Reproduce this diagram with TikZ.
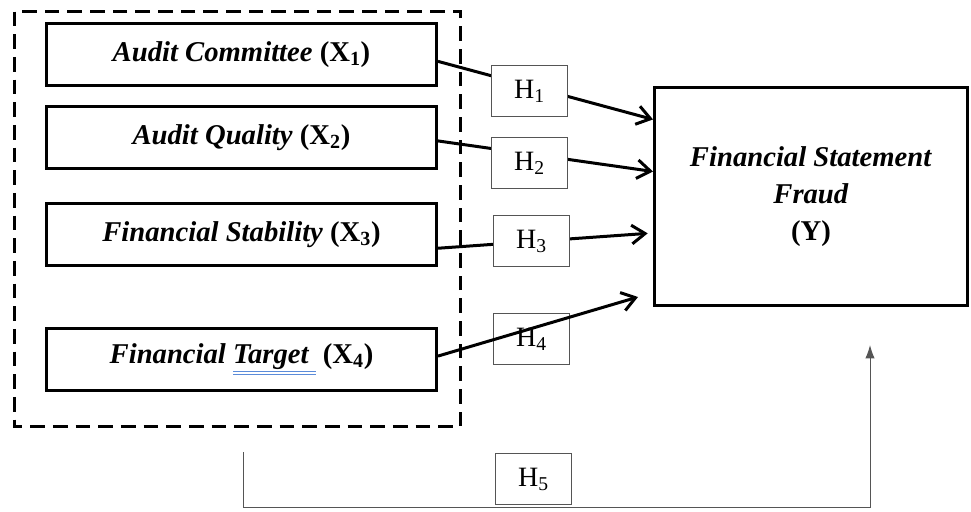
\documentclass[tikz,border=0pt]{standalone}
\usepackage{fontspec}
\setmainfont{Liberation Serif}
\usepackage{tikz}
\usetikzlibrary{positioning, arrows.meta}
\definecolor{abu}{HTML}{555555}
\definecolor{biru}{HTML}{5B8BD9}
\newcommand{\garisbawah}[1]{{\color{biru}\underline{\underline{\color{black}#1\ }}}}

\begin{document}
\begin{tikzpicture}[
    x=0.75pt, y=-0.75pt,
    node distance=13.5pt,
    kotak/.style={
        rectangle, draw=black, line width=2.25pt, fill=white,
        minimum width=292.5pt, minimum height=46.5pt,
        align=center, font=\fontsize{21.5}{26}\selectfont\bfseries,
        inner sep=2pt
    },
    hipo/.style={
        rectangle, draw=abu, line width=0.8pt, fill=white,
        minimum width=57pt, minimum height=38.25pt,
        font=\fontsize{21}{24}\selectfont, inner sep=1pt
    },
    panah/.style={-{Straight Barb[length=10pt, width=14pt]}, line width=2.25pt},
    garis/.style={-{Latex[length=10pt, width=7pt]}, line width=0.75pt, color=abu}
]
\useasboundingbox (0,0) rectangle (971,511);

% kotak putus-putus variabel X
\draw[line width=2.25pt, dash pattern=on 11pt off 6pt] (14.5,11.5) rectangle (460.5,426.5);

\node[kotak] (x1) at (241.5,54.5) {\textit{Audit Committee} (X\textsubscript{1})};
\node[kotak, below=of x1] (x2) {\textit{Audit Quality} (X\textsubscript{2})};
\node[kotak, below=24pt of x2] (x3) {\textit{Financial Stability} (X\textsubscript{3})};
\node[kotak, below=45pt of x3] (x4) {\textit{Financial \garisbawah{Target}} (X\textsubscript{4})};

\node[kotak, minimum width=234.75pt, minimum height=163.5pt,
      font=\fontsize{21.5}{27.5}\selectfont\bfseries] (fraud) at (811,196.5)
      {\textit{Financial Statement}\\\textit{Fraud}\\(Y)};

\coordinate (t4) at (638,297);
\coordinate (h5a) at (243,452);
\coordinate (h5b) at (243,507);
\coordinate (h5c) at (870,345);

\draw[panah] (x1.-2.8) -- (fraud.154.2);
\draw[panah] (x2.-1.3) -- (fraud.171.2);
\draw[panah, shorten >=4pt] (x3.-4.2) -- (fraud.193);

\node[hipo] (h1) at (529.5,91) {H\textsubscript{1}};
\node[hipo] (h2) at (529.5,163) {H\textsubscript{2}};
\node[hipo] (h3) at (531.5,241) {H\textsubscript{3}};
\node[hipo] (h4) at (531.5,339) {H\textsubscript{4}};
\draw[panah] (x4.1) -- (t4);

\node[hipo] (h5) at (533.5,479) {H\textsubscript{5}};
\draw[garis] (h5a) -- (h5b) -| (h5c);
\end{tikzpicture}
\end{document}
